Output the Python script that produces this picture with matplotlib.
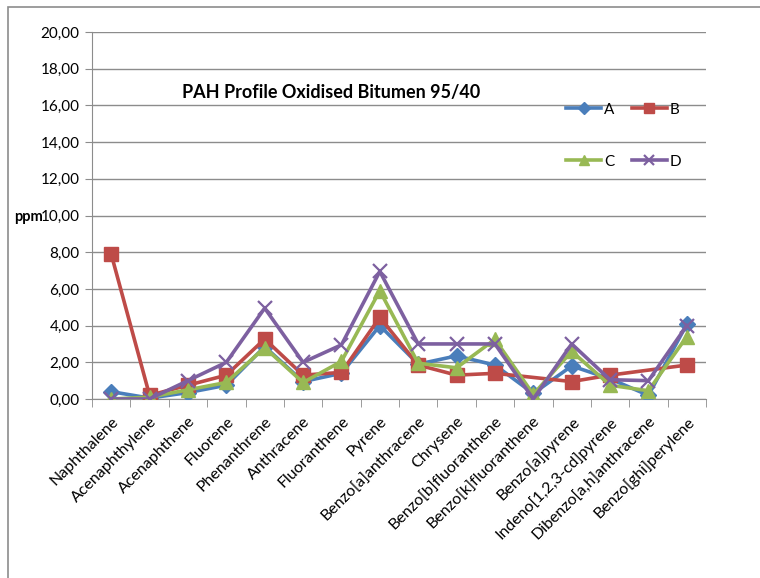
import numpy as np
import matplotlib
matplotlib.use('Agg')
import matplotlib.pyplot as plt
from matplotlib.patches import Rectangle
from matplotlib.ticker import FuncFormatter, FixedLocator

plt.rcParams['font.family'] = ['Lato', 'DejaVu Sans']

compounds = ['Naphthalene', 'Acenaphthylene', 'Acenaphthene', 'Fluorene',
             'Phenanthrene', 'Anthracene', 'Fluoranthene', 'Pyrene',
             'Benzo[a]anthracene', 'Chrysene', 'Benzo[b]fluoranthene',
             'Benzo[k]fluoranthene', 'Benzo[a]pyrene', 'Indeno[1,2,3-cd]pyrene',
             'Dibenzo[a,h]anthracene', 'Benzo[ghi]perylene']

a_vals = [0.40, 0.05, 0.35, 0.75, 2.85, 0.95, 1.40, 4.00, 1.90, 2.35, 1.85, 0.30, 1.80, 1.10, 0.20, 4.08]
b_vals = [7.90, 0.20, 0.75, 1.30, 3.27, 1.30, 1.45, 4.45, 1.85, 1.30, 1.40, np.nan, 0.95, 1.30, np.nan, 1.85]
c_vals = [0.00, 0.10, 0.50, 0.90, 2.80, 0.90, 2.05, 5.90, 1.95, 1.70, 3.25, 0.25, 2.60, 0.75, 0.45, 3.40]
d_vals = [0.00, 0.00, 1.00, 2.00, 4.95, 2.00, 2.95, 6.95, 3.00, 3.00, 3.00, 0.00, 3.00, 1.05, 1.00, 4.00]

series = [('A', a_vals, '#4A7EBB', 'D', 8),
          ('B', b_vals, '#BE4B48', 's', 10),
          ('C', c_vals, '#98B954', '^', 10),
          ('D', d_vals, '#7D60A0', 'x', 10)]

W, H = 760, 578
fig = plt.figure(figsize=(W / 100, H / 100), dpi=100)
fig.patches.append(Rectangle((8 / W, -0.1), 1.2, 1 - 7 / H + 0.1, transform=fig.transFigure,
                             fill=False, edgecolor='#8c8c8c', linewidth=1.2))

ax = fig.add_axes([92 / W, 1 - 399 / H, (706 - 92) / W, (399 - 32) / H])
x = np.arange(len(compounds))

handles = {}
for name, vals, col, mk, ms in series:
    v = np.array(vals, dtype=float)
    ok = ~np.isnan(v)
    line, = ax.plot(x[ok], v[ok], color=col, linewidth=2.6, marker=mk, markersize=ms,
                    markeredgewidth=1.6 if mk == 'x' else 1.0, markeredgecolor=col,
                    markerfacecolor=col, label=name, zorder=3)
    handles[name] = line

ax.set_xlim(-0.5, len(compounds) - 0.5)
ax.set_ylim(0, 20)
ax.set_yticks(np.arange(0, 21, 2))
ax.yaxis.set_major_formatter(FuncFormatter(lambda v, p: f'{v:.2f}'.replace('.', ',')))
ax.grid(axis='y', color='#8c8c8c', linewidth=1.0)
ax.set_axisbelow(True)

ax.set_xticks(x)
ax.set_xticklabels(compounds, rotation=45, ha='right', rotation_mode='anchor', fontsize=11.5)
ax.xaxis.set_minor_locator(FixedLocator(np.arange(-0.5, len(compounds), 1.0)))
ax.tick_params(axis='x', which='major', length=0, pad=11)
ax.tick_params(axis='x', which='minor', length=6, color='#8c8c8c')
ax.tick_params(axis='y', length=5, color='#8c8c8c', labelsize=11, pad=4)

for s in ['top', 'right']:
    ax.spines[s].set_visible(False)
for s in ['left', 'bottom']:
    ax.spines[s].set_color('#8c8c8c')

ax.text(0.39, 0.835, 'PAH Profile Oxidised Bitumen 95/40', transform=ax.transAxes,
        ha='center', va='center', fontsize=13, fontweight='bold')

fig.text(14 / W, 1 - 217 / H, 'ppm', ha='left', va='center', fontsize=10.5, fontweight='bold')

leg = ax.legend([handles['A'], handles['C'], handles['B'], handles['D']],
                ['A', 'C', 'B', 'D'], ncol=2, loc='upper left',
                bbox_to_anchor=(0.75, 0.845), frameon=False, fontsize=11,
                handlelength=2.3, labelspacing=2.5, columnspacing=1.1, handletextpad=0.2,
                markerscale=0.75)

fig.savefig('out.png', dpi=100)
